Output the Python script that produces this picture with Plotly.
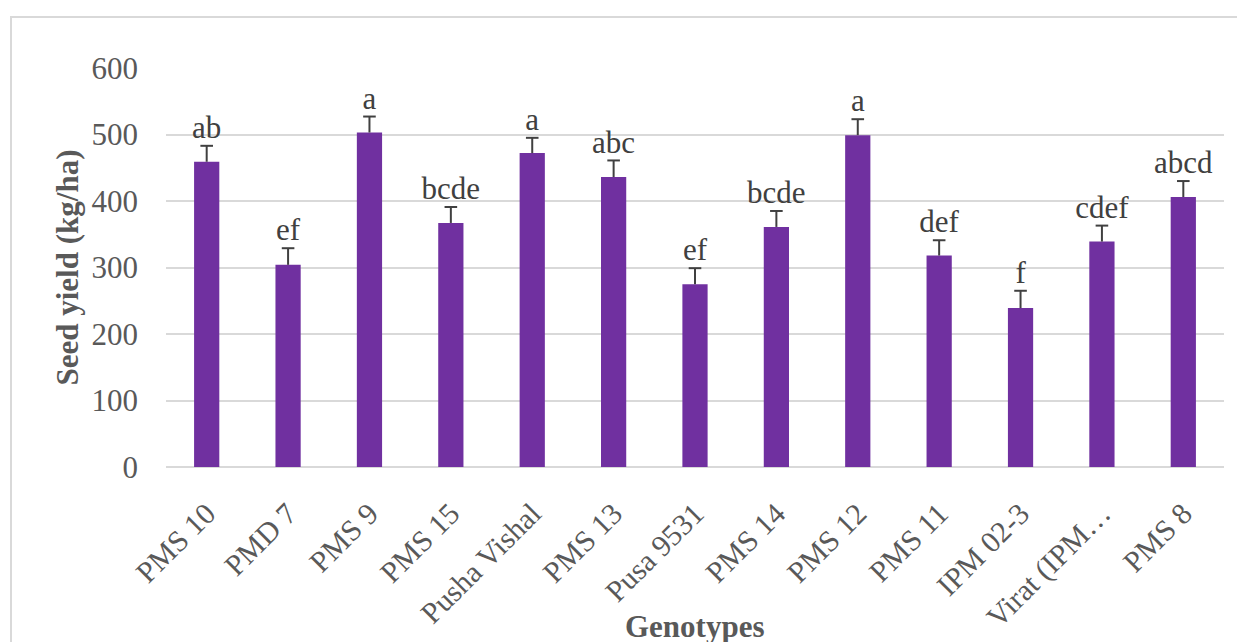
import plotly.graph_objects as go

genotypes = ["PMS 10", "PMD 7", "PMS 9", "PMS 15", "Pusha Vishal", "PMS 13", "Pusa 9531",
             "PMS 14", "PMS 12", "PMS 11", "IPM 02-3", "Virat (IPM…", "PMS 8"]
seed_yield = [459, 304, 503, 367, 472, 436, 275, 361, 499, 318, 239, 339, 406]
std_err = [24, 25, 24, 24, 23, 25, 24, 24, 24, 23, 26, 24, 24]
letters = ["ab", "ef", "a", "bcde", "a", "abc", "ef", "bcde", "a", "def", "f", "cdef", "abcd"]

FONT = "Liberation Serif"
TXT = "#595959"
ERR = "#404040"

# figure geometry (page body adds an 8px offset)
L, T, R, B = 158, 60, 29, 183
W, H = 1245, 642
PW, PH = W - L - R, H - T - B

tops = [v + e for v, e in zip(seed_yield, std_err)]

fig = go.Figure()
fig.add_trace(go.Bar(
    x=genotypes, y=seed_yield,
    marker=dict(color="#7030a0", line=dict(width=0)),
    width=0.31,
    error_y=dict(type="data", symmetric=False, array=std_err, arrayminus=[0] * len(std_err),
                 visible=True, color=ERR, thickness=2, width=0),
    showlegend=False, hoverinfo="x+y",
))
fig.add_trace(go.Scatter(
    x=genotypes, y=tops, mode="markers",
    marker=dict(symbol="line-ew", size=9, line=dict(color=ERR, width=2)),
    showlegend=False, cliponaxis=False, hoverinfo="skip",
))
fig.add_trace(go.Scatter(
    x=genotypes, y=tops, mode="text", text=letters, textposition="top center",
    textfont=dict(family=FONT, size=31, color=ERR),
    showlegend=False, cliponaxis=False, hoverinfo="skip",
))

fig.update_layout(
    width=W, height=H,
    margin=dict(l=L, r=R, t=T, b=B),
    paper_bgcolor="white", plot_bgcolor="white",
    font=dict(family=FONT, color=TXT),
    xaxis=dict(
        type="category", range=[-0.5, len(genotypes) - 0.5],
        tickangle=-45, tickfont=dict(family=FONT, size=30, color=TXT),
        showgrid=False, showline=False, ticks="", automargin=False,
        ticklabelstandoff=22,
    ),
    yaxis=dict(
        range=[0, 600], dtick=100, tickfont=dict(family=FONT, size=31, color=TXT),
        showgrid=True, gridcolor="#d9d9d9", gridwidth=2,
        zeroline=True, zerolinecolor="#d9d9d9", zerolinewidth=2,
        showline=False, ticks="", automargin=False, ticklabelstandoff=27,
    ),
    annotations=[
        dict(text="<b>Genotypes</b>", xref="paper", yref="paper", x=0.5 + (695 - 8 - L - PW / 2) / PW,
             y=(PH - (626 - 8 - T)) / PH, xanchor="center", yanchor="middle", showarrow=False,
             font=dict(family=FONT, size=31, color=TXT)),
        dict(text="<b>Seed yield (kg/ha)</b>", xref="paper", yref="paper", x=(67 - 8 - L) / PW,
             y=0.5, xanchor="center", yanchor="middle", textangle=-90, showarrow=False,
             font=dict(family=FONT, size=31, color=TXT)),
    ],
    shapes=[dict(type="rect", xref="paper", yref="paper",
                 x0=(11 - 8 - L) / PW, x1=1.3, y0=-1.0, y1=(PH - (17 - 8 - T)) / PH,
                 line=dict(color="#d9d9d9", width=2), fillcolor="rgba(0,0,0,0)", layer="below")],
)

fig.write_html("out.html")
